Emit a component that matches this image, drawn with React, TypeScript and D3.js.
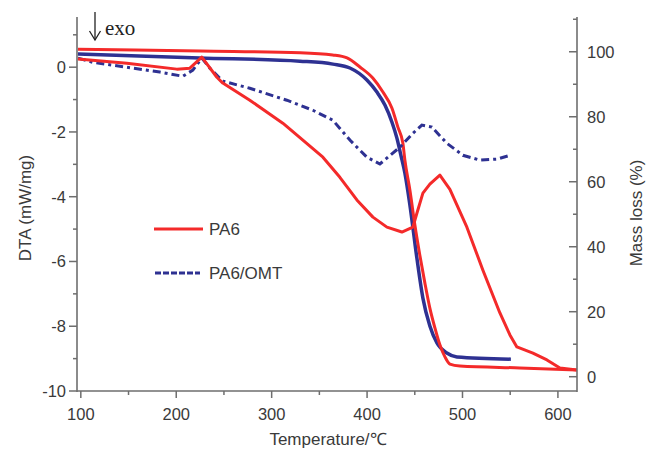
import React from "react";
import * as d3 from "d3";

// PA6 TG (mass %)
const pa6TgT = [97, 225, 330, 364, 379, 392.5, 406, 416.6, 426, 432.3, 437.5, 439.6, 444.9, 450.1, 455.3, 460.6, 465.8, 471.1, 476.3, 481.6, 486.8, 497.3, 560.2, 619.9];
const pa6TgM = [100.8, 100.2, 99.7, 99.0, 98.1, 95.3, 91.9, 87.6, 82.7, 76.8, 71.9, 66.7, 57.4, 46.7, 37.4, 28.8, 21.1, 15.0, 9.8, 6.1, 3.9, 3.3, 2.7, 2.1];

// PA6/OMT TG (mass %)
const omtTgT = [97, 224.7, 329.6, 364.2, 382, 399.8, 410.3, 418.7, 426, 431.2, 435.4, 439.6, 444.9, 452.2, 458.5, 465.8, 473.2, 483.6, 494.1, 550.7];
const omtTgM = [99.3, 98.1, 97.1, 96.2, 95.0, 91.3, 87.6, 83.6, 78.4, 73.5, 68.2, 62.7, 52.8, 36.5, 24.2, 15.6, 10.4, 7.3, 6.1, 5.4];

// PA6 DTA (mW/mg)
const pa6DtaT = [97, 148.2, 200.6, 214.3, 226.8, 242.6, 248.8, 277.1, 311.7, 353.7, 371.5, 389.3, 406.1, 420.8, 436.5, 448, 452.2, 458.5, 465.8, 476.3, 486.8, 504.6, 521.4, 539.2, 549.7, 557, 573.8, 588.5, 602.1, 619.9];
const pa6DtaV = [0.25, 0.12, -0.06, -0.03, 0.31, -0.31, -0.49, -1.02, -1.73, -2.78, -3.4, -4.1, -4.63, -4.94, -5.09, -4.94, -4.51, -3.89, -3.61, -3.33, -3.77, -4.94, -6.27, -7.59, -8.27, -8.64, -8.83, -9.04, -9.29, -9.35];

// PA6/OMT DTA (mW/mg)
const omtDtaT = [97, 112.6, 148.2, 182.8, 206.9, 217.4, 226.8, 235.2, 248.8, 277.1, 315.9, 343.2, 364.2, 382, 399.8, 413.4, 434.4, 448, 457.4, 467.9, 483.6, 500.4, 518.2, 536.1, 549.7];
const omtDtaV = [0.28, 0.15, 0.0, -0.15, -0.28, -0.09, 0.28, -0.03, -0.43, -0.65, -1.02, -1.33, -1.64, -2.25, -2.78, -2.99, -2.47, -2.04, -1.79, -1.85, -2.35, -2.72, -2.87, -2.84, -2.72];

const xMajor = [100, 200, 300, 400, 500, 600];
const xMinor = [150, 250, 350, 450, 550];
const yLeftMajor = [0, -2, -4, -6, -8, -10];
const yLeftMinor = [1, -1, -3, -5, -7, -9];
const yRightMajor = [0, 20, 40, 60, 80, 100];
const yRightMinor = [10, 30, 50, 70, 90, 110];

const RED = "#f42a2a";
const BLUE = "#2e3192";
const AXIS = "#6e6e6e";
const TEXT = "#3a3a3a";
const FONT = "'Liberation Sans', Arial, sans-serif";

export default function App() {
  const x = d3.scaleLinear().domain([96, 620]).range([77, 577]);
  const yL = d3.scaleLinear().domain([-10, 1.55]).range([391, 17]);
  const yR = d3.scaleLinear().domain([-4.4, 110.7]).range([391, 17]);

  const zip = (a: number[], b: number[]) => a.map((v, i) => [v, b[i]] as [number, number]);

  const tgLine = d3
    .line<[number, number]>()
    .x((d) => x(d[0]))
    .y((d) => yR(d[1]))
    .curve(d3.curveMonotoneX);
  const dtaLine = d3
    .line<[number, number]>()
    .x((d) => x(d[0]))
    .y((d) => yL(d[1]))
    .curve(d3.curveLinear);

  const left = 77;
  const right = 577;
  const bottom = 391;
  const top = 17;

  return (
    <svg
      width={647}
      height={450}
      style={{ position: "absolute", left: 0, top: 0, background: "#fff" }}
      fontFamily={FONT}
    >
      {/* curves */}
      <path d={tgLine(zip(omtTgT, omtTgM)) || ""} fill="none" stroke={BLUE} strokeWidth={3.5} />
      <path d={tgLine(zip(pa6TgT, pa6TgM)) || ""} fill="none" stroke={RED} strokeWidth={3} />
      <path
        d={dtaLine(zip(omtDtaT, omtDtaV)) || ""}
        fill="none"
        stroke={BLUE}
        strokeWidth={3}
        strokeDasharray="8 4 3 4"
      />
      <path d={dtaLine(zip(pa6DtaT, pa6DtaV)) || ""} fill="none" stroke={RED} strokeWidth={3} strokeLinejoin="round" />

      {/* axes lines */}
      <line x1={left} y1={top} x2={left} y2={bottom + 1} stroke={AXIS} strokeWidth={1.6} />
      <line x1={right} y1={top} x2={right} y2={bottom + 1} stroke={AXIS} strokeWidth={1.6} />
      <line x1={left} y1={bottom} x2={right} y2={bottom} stroke={AXIS} strokeWidth={1.6} />

      {/* bottom ticks */}
      {xMajor.map((t) => (
        <g key={"xm" + t}>
          <line x1={x(t)} x2={x(t)} y1={bottom} y2={bottom + 7} stroke={AXIS} strokeWidth={1.5} />
          <text x={x(t)} y={420} textAnchor="middle" fontSize={16.5} fill={TEXT}>
            {t}
          </text>
        </g>
      ))}
      {xMinor.map((t) => (
        <line key={"xn" + t} x1={x(t)} x2={x(t)} y1={bottom} y2={bottom + 4} stroke={AXIS} strokeWidth={1.5} />
      ))}

      {/* left ticks */}
      {yLeftMajor.map((t) => (
        <g key={"lm" + t}>
          <line x1={left - 8} x2={left} y1={yL(t)} y2={yL(t)} stroke={AXIS} strokeWidth={1.5} />
          <text x={66} y={yL(t)} dy="0.36em" textAnchor="end" fontSize={16.5} fill={TEXT}>
            {t}
          </text>
        </g>
      ))}
      {yLeftMinor.map((t) => (
        <line key={"ln" + t} x1={left - 4} x2={left} y1={yL(t)} y2={yL(t)} stroke={AXIS} strokeWidth={1.5} />
      ))}

      {/* right ticks (inward) */}
      {yRightMajor.map((t) => (
        <g key={"rm" + t}>
          <line x1={right - 8} x2={right} y1={yR(t)} y2={yR(t)} stroke={AXIS} strokeWidth={1.5} />
          <text x={587} y={yR(t)} dy="0.36em" textAnchor="start" fontSize={16.5} fill={TEXT}>
            {t}
          </text>
        </g>
      ))}
      {yRightMinor.map((t) => (
        <line key={"rn" + t} x1={right - 4} x2={right} y1={yR(t)} y2={yR(t)} stroke={AXIS} strokeWidth={1.5} />
      ))}

      {/* axis titles */}
      <text x={328} y={445} textAnchor="middle" fontSize={17} fill={TEXT}>
        Temperature/℃
      </text>
      <text
        transform="translate(31,208) rotate(-90)"
        textAnchor="middle"
        fontSize={17}
        fill={TEXT}
      >
        DTA (mW/mg)
      </text>
      <text
        transform="translate(642,213) rotate(-90)"
        textAnchor="middle"
        fontSize={17}
        fill={TEXT}
      >
        Mass loss (%)
      </text>

      {/* exo arrow */}
      <line x1={95} y1={12} x2={95} y2={40} stroke="#222" strokeWidth={1.3} />
      <path d="M89.5,31 L95,40 L100.5,31" fill="none" stroke="#222" strokeWidth={1.3} />
      <text x={105} y={35} fontSize={21} fontFamily="'Liberation Serif', 'Times New Roman', serif" fill="#222">
        exo
      </text>

      {/* legend */}
      <line x1={154} x2={203} y1={229} y2={229} stroke={RED} strokeWidth={3} />
      <text x={209} y={229} dy="0.36em" fontSize={17} fill={TEXT}>
        PA6
      </text>
      <line x1={155} x2={200} y1={273} y2={273} stroke={BLUE} strokeWidth={3} strokeDasharray="6 2" />
      <text x={209} y={273} dy="0.36em" fontSize={17} fill={TEXT}>
        PA6/OMT
      </text>
    </svg>
  );
}
